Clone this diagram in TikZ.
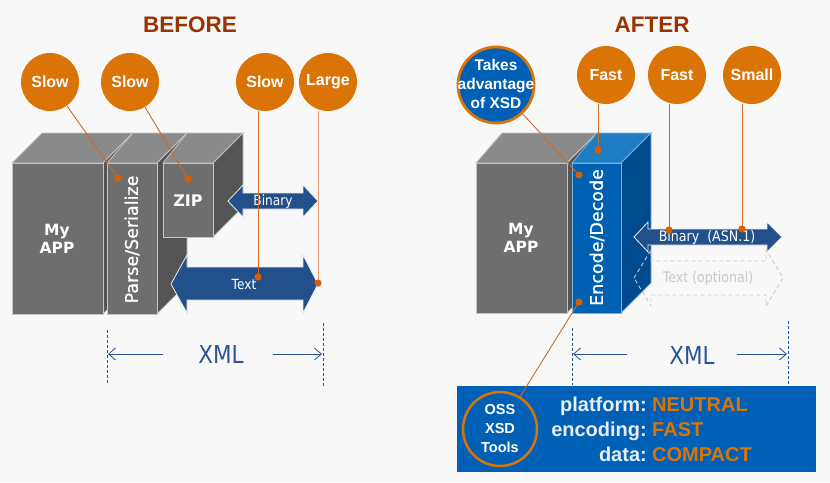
\documentclass[tikz,border=0pt]{standalone}
\usepackage{fontspec}
\setmainfont{Liberation Sans}
\newfontfamily\vera{DejaVu Sans}
\newfontfamily\verafb[FakeBold=0.8]{DejaVu Sans}
\newfontfamily\tah[FakeStretch=0.87]{DejaVu Sans}
\usetikzlibrary{arrows.meta}
\definecolor{bg}{HTML}{F8F8F9}
\definecolor{ttl}{HTML}{993300}
\definecolor{orng}{HTML}{DB7407}
\definecolor{dotc}{HTML}{D95E00}
\definecolor{lnc}{HTML}{D2691E}
\definecolor{lnl}{HTML}{F0A070}
\definecolor{gfront}{HTML}{6E6E6E}
\definecolor{gtop}{HTML}{8A8A8A}
\definecolor{gside}{HTML}{545454}
\definecolor{gedge}{HTML}{C4C4C4}
\definecolor{bfront}{HTML}{0061B2}
\definecolor{btop}{HTML}{1E7DC2}
\definecolor{bside}{HTML}{004B8D}
\definecolor{arw}{HTML}{22508A}
\definecolor{xmlc}{HTML}{2A5590}
\definecolor{boxc}{HTML}{0060B5}
\definecolor{lbl}{HTML}{E8ECF4}
\definecolor{dashc}{HTML}{C8C8C8}
\begin{document}
\begin{tikzpicture}[x=1pt,y=-1pt,
  circ/.style={circle, fill=orng, minimum size=58pt, inner sep=0pt},
  circtxt/.style={text=white, inner sep=0pt, align=center, font=\fontsize{16}{18}\selectfont\bfseries},
  gface/.style={draw=gedge, line width=0.8pt},
  bface/.style={draw=btop!60!white, line width=0.8pt},
  callout/.style={draw=lnc, line width=0.9pt},
  dotst/.style={fill=dotc},
  barrow/.style={fill=arw, draw=white!85!gray, line width=0.8pt},
  darrow/.style={draw=dashc, line width=0.9pt, dash pattern=on 4pt off 3pt},
  arlabel/.style={text=white, inner sep=0pt, font=\tah\fontsize{14}{16}\selectfont},
  xmltxt/.style={text=xmlc, inner sep=0pt, font=\tah\fontsize{24.7}{26}\selectfont},
  xarr/.style={draw=xmlc, line width=0.8pt, -{Straight Barb[length=7pt,width=12pt]}},
  dim/.style={draw=xmlc, line width=0.8pt, dash pattern=on 3pt off 2pt},
  titletxt/.style={text=ttl, inner sep=0pt, font=\fontsize{22.5}{24}\selectfont\bfseries},
  boxtxt/.style={text=white, inner sep=0pt, align=center, font=\vera\bfseries\fontsize{15.5}{18}\selectfont},
  rottxt/.style={text=white, inner sep=0pt, rotate=90, font=\verafb\fontsize{17.5}{19}\selectfont},
  paneltxt/.style={inner sep=0pt, font=\fontsize{20}{22}\selectfont\bfseries},
  bluecirc/.style={circle, fill=boxc, draw=orng, line width=2.8pt, minimum size=76pt, inner sep=0pt},
  ]
\fill[bg] (0,0) rectangle (830,482);
\useasboundingbox (0,0) rectangle (830,482);

% titles
\node[titletxt] (before) at (190,25) {BEFORE};
\node[titletxt] (after) at (652,25) {AFTER};

% ---------- LEFT: My APP ----------
\filldraw[gface, fill=gtop] (12,163) -- (42,133) -- (133,133) -- (103,163) -- cycle;
\filldraw[gface, fill=gside] (103,163) -- (133,133) -- (133,284) -- (103,314) -- cycle;
\filldraw[gface, fill=gfront] (12,163) rectangle (103,314);
\node[boxtxt] (app1) at (57,239) {My\\APP};
% Parse/Serialize
\filldraw[gface, fill=gtop] (107,163) -- (133,133) -- (187,133) -- (157,163) -- cycle;
\filldraw[gface, fill=gside] (157,163) -- (187,133) -- (187,284) -- (157,314) -- cycle;
\filldraw[gface, fill=gfront] (107,163) rectangle (157,314);
\node[rottxt] (parse) at (132,239.5) {Parse/Serialize};
% ZIP
\filldraw[gface, fill=gtop] (163,163) -- (187,133) -- (243,133) -- (213,163) -- cycle;
\filldraw[gface, fill=gside] (213,163) -- (243,133) -- (243,207) -- (213,237) -- cycle;
\filldraw[gface, fill=gfront] (163,163) rectangle (213,237);
\node[boxtxt, font=\vera\bfseries\fontsize{16}{18}\selectfont] (zip) at (188,201) {ZIP};

% arrows left
\filldraw[barrow] (228,201) -- (243,185) -- (243,193) -- (303,193) -- (303,185) -- (318,201)
  -- (303,217) -- (303,209) -- (243,209) -- (243,217) -- cycle;
\node[arlabel] (bin1) at (273,202) {Binary};
\filldraw[barrow] (171,284) -- (187,255) -- (187,267) -- (303,267) -- (303,255) -- (318,284)
  -- (303,313) -- (303,300) -- (187,300) -- (187,313) -- cycle;
\node[arlabel] (txt1) at (244,284) {Text};

% circles left
\node[circ] (s1) at (50,82) {};
\node[circ] (s2) at (130,82) {};
\node[circ] (s3) at (265,82) {};
\node[circ] (lg) at (328,82) {};
\node[circtxt] (s1t) at (s1) {Slow};
\node[circtxt] (s2t) at (s2) {Slow};
\node[circtxt] (s3t) at (s3) {Slow};
\node[circtxt] (lgt) at (lg) {Large};

\coordinate (d1) at (118,178);
\coordinate (d2) at (188,179);
\coordinate (d3) at (258,277);
\coordinate (d4) at (318,283);
\draw[callout] (s1) -- (d1);
\draw[callout] (s2) -- (d2);
\draw[callout] (d3 |- s3.south) -- (d3);
\draw[callout, draw=lnl] (d4 |- lg.south) -- (d4);
\foreach \d in {d1,d2,d3,d4} \fill[dotst] (\d) circle (3.6pt);

% XML left
\coordinate (v1a) at (107,330); \coordinate (v1b) at (107,383);
\coordinate (v2a) at (323,323); \coordinate (v2b) at (323,386);
\draw[dim] (v1a) -- (v1b);
\draw[dim] (v2a) -- (v2b);
\node[xmltxt] (xml1) at (221,354) {XML};
\coordinate (xa1) at (163,354); \coordinate (xa2) at (108,354);
\coordinate (xb1) at (273,354); \coordinate (xb2) at (322,354);
\draw[xarr] (xa1) -- (xa2);
\draw[xarr] (xb1) -- (xb2);

% ---------- RIGHT: My APP ----------
\filldraw[gface, fill=gtop] (476,163) -- (502,133) -- (597,133) -- (567,163) -- cycle;
\filldraw[gface, fill=gside] (567,163) -- (597,133) -- (597,283) -- (567,313) -- cycle;
\filldraw[gface, fill=gfront] (476,163) rectangle (567,313);
\node[boxtxt] (app2) at (521,238) {My\\APP};
% Encode/Decode
\filldraw[bface, fill=btop] (572,163) -- (597,133) -- (651,133) -- (621,163) -- cycle;
\filldraw[bface, fill=bside] (621,163) -- (651,133) -- (651,283) -- (621,313) -- cycle;
\filldraw[bface, fill=bfront] (572,163) rectangle (621,313);
\node[rottxt] (enc) at (597,237.5) {Encode/Decode};

% arrows right
\filldraw[barrow] (634,237) -- (648,222) -- (648,229) -- (767,229) -- (767,222) -- (782,237)
  -- (767,252) -- (767,245) -- (648,245) -- (648,252) -- cycle;
\node[arlabel, font=\tah\fontsize{14.5}{16}\selectfont] (bin2) at (707,237) {Binary\ \ (ASN.1)};
\draw[darrow] (634,278) -- (651,250) -- (651,261) -- (766,261) -- (766,250) -- (783,278)
  -- (766,306) -- (766,295) -- (651,295) -- (651,306) -- cycle;
\node[arlabel, text=dashc, font=\tah\fontsize{14.5}{16}\selectfont] (txt2) at (708,278) {Text (optional)};

% XML right
\coordinate (v3a) at (572,328); \coordinate (v3b) at (572,385);
\coordinate (v4a) at (788,321); \coordinate (v4b) at (788,385);
\draw[dim] (v3a) -- (v3b);
\draw[dim] (v4a) -- (v4b);
\node[xmltxt] (xml2) at (692,355) {XML};
\coordinate (xc1) at (627,354); \coordinate (xc2) at (573,354);
\coordinate (xd1) at (737,354); \coordinate (xd2) at (787,354);
\draw[xarr] (xc1) -- (xc2);
\draw[xarr] (xd1) -- (xd2);

% panel
\node[fill=boxc, minimum width=359pt, minimum height=86pt, inner sep=0pt, anchor=north west] (panel) at (457,386) {};
\node[paneltxt, text=lbl, anchor=base east] (l1) at (647,411) {platform:};
\node[paneltxt, text=lbl, anchor=base east] (l2) at (647,436) {encoding:};
\node[paneltxt, text=lbl, anchor=base east] (l3) at (647,461) {data:};
\node[paneltxt, text=orng, anchor=base west] (r1) at (652,411) {NEUTRAL};
\node[paneltxt, text=orng, anchor=base west] (r2) at (652,436) {FAST};
\node[paneltxt, text=orng, anchor=base west] (r3) at (652,461) {COMPACT};

% circles right
\node[circ] (f1) at (606,75) {};
\node[circ] (f2) at (677,75) {};
\node[circ] (sm) at (752,75) {};
\node[circtxt] (f1t) at (f1) {Fast};
\node[circtxt] (f2t) at (f2) {Fast};
\node[circtxt] (smt) at (sm) {Small};
\node[bluecirc] (tk) at (496,85) {};
\node[circtxt, font=\fontsize{15.5}{19}\selectfont\bfseries] (tkt) at (496,84) {Takes\\advantage\\of XSD};
\node[circle, draw=orng, line width=2.5pt, minimum size=74pt, inner sep=0pt] (oss) at (500,429) {};
\node[circtxt, font=\fontsize{14.5}{19}\selectfont\bfseries] (osst) at (oss) {OSS\\XSD\\Tools};

\coordinate (d5) at (579,175);
\coordinate (d6) at (598,150);
\coordinate (d7) at (669,230);
\coordinate (d8) at (742,229);
\coordinate (d9) at (579,302);
\draw[callout] (tk) -- (d5);
\draw[callout] (d6 |- f1.south) -- (d6);
\draw[callout] (d7 |- f2.south) -- (d7);
\draw[callout] (d8 |- sm.south) -- (d8);
\draw[callout] (oss) -- (d9);
\foreach \d in {d5,d6,d7,d8,d9} \fill[dotst] (\d) circle (3.6pt);
\end{tikzpicture}
\end{document}
